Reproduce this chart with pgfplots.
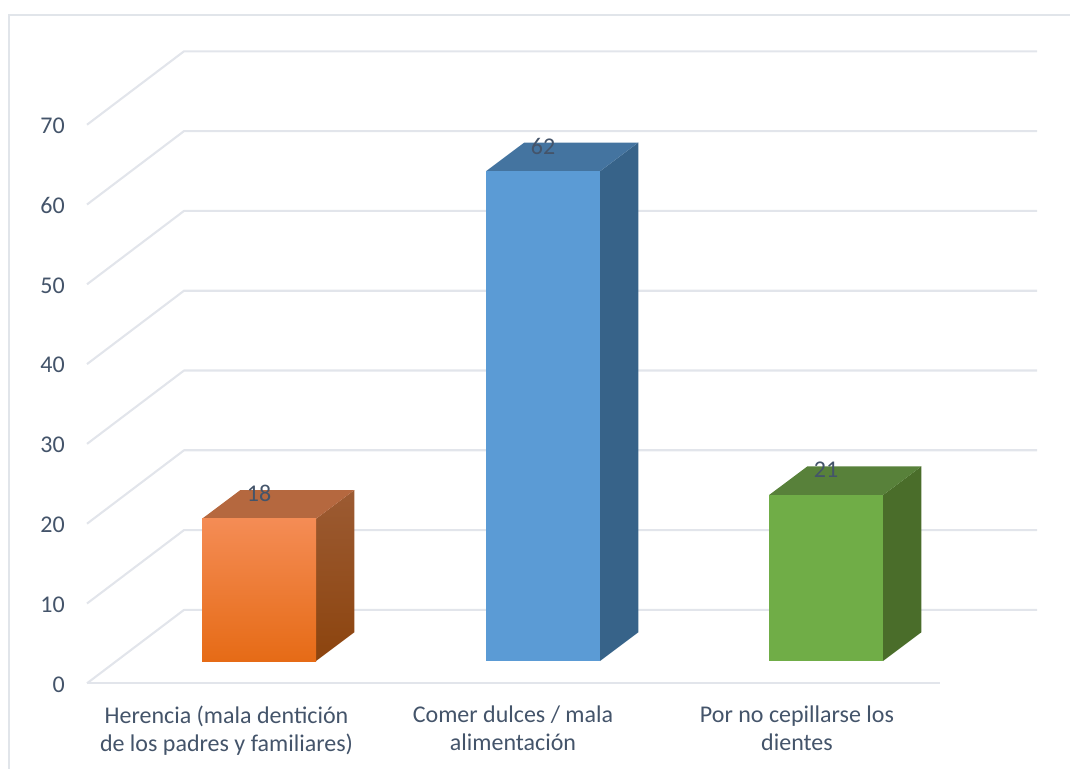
\documentclass[border=0pt]{standalone}
\usepackage{pgfplots}
\pgfplotsset{compat=1.18}
\usepackage{fontspec}
\setmainfont{Carlito}
\definecolor{gridc}{HTML}{E2E5EB}
\definecolor{framec}{HTML}{E1E5EA}
\definecolor{textc}{HTML}{44546A}
\definecolor{orangeTop}{HTML}{F48C55}
\definecolor{orangeMid}{HTML}{F87A20}
\definecolor{orangeLow}{HTML}{E66B16}
\definecolor{orangeSideTop}{HTML}{9C5B33}
\definecolor{orangeSideLow}{HTML}{8C440E}
\definecolor{orangeCap}{HTML}{B5683F}
\definecolor{blueFront}{HTML}{5B9BD5}
\definecolor{blueSide}{HTML}{376389}
\definecolor{blueCap}{HTML}{4474A0}
\definecolor{greenFront}{HTML}{70AD47}
\definecolor{greenSide}{HTML}{4A6D2A}
\definecolor{greenCap}{HTML}{58813A}
\pgfplotsset{
  chartbase/.style={
    scale only axis, width=1070pt, height=769pt,
    xmin=0, xmax=1070,
    at={(0pt,0pt)}, anchor=south west,
    clip=false,
    /pgf/number format/assume math mode=true,
  },
  gridline/.style={draw=gridc, line width=2.1pt, line join=round, mark=none, forget plot},
  face/.style={draw=none, mark=none, fill=#1, forget plot},
}
\begin{document}
\begin{tikzpicture}
\useasboundingbox (0,0) rectangle (1070pt,769pt);
% chart area border (left and top edges only)
\draw[framec, line width=2.1pt] (9pt,0pt) -- (9pt,754pt) -- (1070pt,754pt);

% walls and floor: front plane 7.98 px per unit, zero at 683.3 px from the top
\begin{axis}[
  chartbase,
  ymin=-10.74, ymax=85.63,
  axis line style={draw=none},
  major tick length=0pt,
  ytick={0,10,20,30,40,50,60,70},
  xtick={226.5,513,797},
  xticklabels={{Herencia (mala dentición\\de los padres y familiares)},
               {Comer dulces / mala\\alimentación},
               {Por no cepillarse los\\dientes}},
  tick label style={font=\fontsize{24}{28.5}\selectfont, text=textc},
  y tick label style={inner sep=0pt, anchor=east, xshift=65pt, yshift=-1pt},
  x tick label style={inner sep=0pt, anchor=north, align=center, yshift=63.5pt},
]
\addplot[gridline] coordinates {(87,0) (184,9.2) (1037,9.2)};
\addplot[gridline] coordinates {(87,10) (184,19.2) (1037,19.2)};
\addplot[gridline] coordinates {(87,20) (184,29.2) (1037,29.2)};
\addplot[gridline] coordinates {(87,30) (184,39.2) (1037,39.2)};
\addplot[gridline] coordinates {(87,40) (184,49.2) (1037,49.2)};
\addplot[gridline] coordinates {(87,50) (184,59.2) (1037,59.2)};
\addplot[gridline] coordinates {(87,60) (184,69.2) (1037,69.2)};
\addplot[gridline] coordinates {(87,70) (184,79.2) (1037,79.2)};
\addplot[gridline] coordinates {(87,0) (940,0)};
\end{axis}

% columns: bar plane 7.9 px per unit, zero at 661 px from the top
\begin{axis}[
  chartbase,
  ymin=-13.6709, ymax=83.6709,
  hide axis,
]
\pgfplotsset{every node near coord/.style={
    font=\fontsize{24}{28}\selectfont, text=textc, anchor=center, yshift=25pt}}
% Herencia: 18
\addplot[draw=none, mark=none, forget plot, top color=orangeSideTop, bottom color=orangeSideLow]
  coordinates {(316,0) (354.3,3.63) (354.3,21.63) (316,18)} --cycle;
\addplot[face=orangeCap]
  coordinates {(202,18) (240.3,21.63) (354.3,21.63) (316,18)} --cycle;
\addplot[ybar, bar width=114pt, bar shift=0pt, draw=none, nodes near coords,
  top color=orangeTop, middle color=orangeMid, bottom color=orangeLow]
  coordinates {(259,18)};
% Comer dulces: 62
\addplot[face=blueSide]
  coordinates {(600,0) (638.3,3.63) (638.3,65.63) (600,62)} --cycle;
\addplot[face=blueCap]
  coordinates {(486,62) (524.3,65.63) (638.3,65.63) (600,62)} --cycle;
\addplot[ybar, bar width=114pt, bar shift=0pt, draw=none, nodes near coords, fill=blueFront]
  coordinates {(543,62)};
% Por no cepillarse: 21
\addplot[face=greenSide]
  coordinates {(883,0) (921.3,3.63) (921.3,24.63) (883,21)} --cycle;
\addplot[face=greenCap]
  coordinates {(769,21) (807.3,24.63) (921.3,24.63) (883,21)} --cycle;
\addplot[ybar, bar width=114pt, bar shift=0pt, draw=none, nodes near coords, fill=greenFront]
  coordinates {(826,21)};
\end{axis}
\end{tikzpicture}
\end{document}
